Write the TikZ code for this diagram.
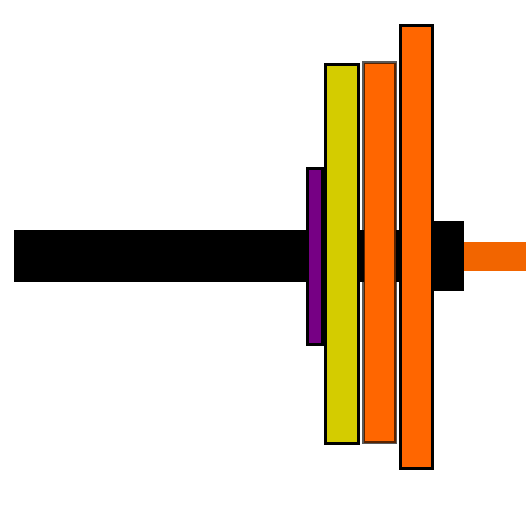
\documentclass[tikz,border=0pt]{standalone}
\usepackage{tikz}
\definecolor{plateOrange}{RGB}{255, 102, 0}
\definecolor{stubOrange}{RGB}{242, 101, 0}
\definecolor{plateYellow}{RGB}{212, 204, 0}
\definecolor{platePurple}{RGB}{118, 0, 132}

\begin{document}
\begin{tikzpicture}[
    x=0.02cm, y=-0.02cm,
    plate/.style={draw=black, line width=1.7pt},
    fadedplate/.style={plate, draw opacity=0.65},
    bar/.style={fill=black, draw=none},
  ]
    \useasboundingbox (0,0) rectangle (526,512);

    % Bar, collar and end stub
    \fill[bar] (14,230) rectangle (432,282);
    \fill[bar] (432,221) rectangle (464,291);
    \fill[stubOrange] (464,242) rectangle (526,271);

    % Plates, small to large
    \draw[plate, fill=platePurple] (307.5,168.5) rectangle (322.5,344.5);
    \draw[plate, fill=plateYellow] (325.5,64.5) rectangle (358.5,443.5);
    \draw[fadedplate, fill=plateOrange] (363.5,62.5) rectangle (395.5,442.5);
    \draw[plate, fill=plateOrange] (400.5,25.5) rectangle (432.5,468.5);
  \end{tikzpicture}
\end{document}
